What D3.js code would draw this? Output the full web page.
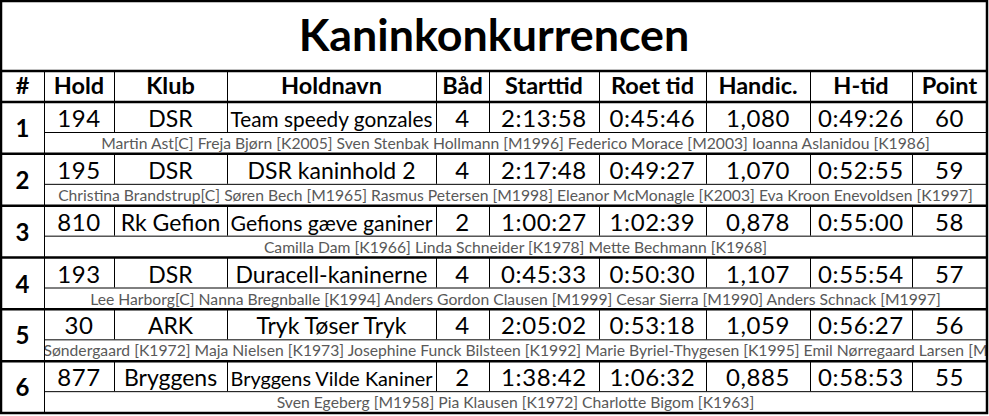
<!DOCTYPE html>
<html lang="da">

<head>
    <meta charset="UTF-8">
    <title>Kaninkonkurrencen</title>
    <script src="https://d3js.org/d3.v7.min.js"></script>
    <style>
        body { margin: 0; background: #fff; }
        text { font-family: Lato, "Noto Sans", sans-serif; }
    </style>
</head>

<body>

    <svg width="989" height="416" id="mainsvg"></svg>

    <script>
        // data
        const title = 'Kaninkonkurrencen';
        const headers = ['#', 'Hold', 'Klub', 'Holdnavn', 'Båd', 'Starttid', 'Roet tid', 'Handic.', 'H-tid', 'Point'];
        const ranks = ['1', '2', '3', '4', '5', '6'];
        const holdNr = ['194', '195', '810', '193', '30', '877'];
        const klub = ['DSR', 'DSR', 'Rk Gefion', 'DSR', 'ARK', 'Bryggens'];
        const holdnavn = ['Team speedy gonzales', 'DSR kaninhold 2', 'Gefions gæve ganiner', 'Duracell-kaninerne', 'Tryk Tøser Tryk', 'Bryggens Vilde Kaniner'];
        const baad = ['4', '4', '2', '4', '4', '2'];
        const starttid = ['2:13:58', '2:17:48', '1:00:27', '0:45:33', '2:05:02', '1:38:42'];
        const roetTid = ['0:45:46', '0:49:27', '1:02:39', '0:50:30', '0:53:18', '1:06:32'];
        const handicap = ['1,080', '1,070', '0,878', '1,107', '1,059', '0,885'];
        const hTid = ['0:49:26', '0:52:55', '0:55:00', '0:55:54', '0:56:27', '0:58:53'];
        const point = ['60', '59', '58', '57', '56', '55'];
        const members = [
            'Martin Ast[C] Freja Bjørn [K2005] Sven Stenbak Hollmann [M1996] Federico Morace [M2003] Ioanna Aslanidou [K1986]',
            'Christina Brandstrup[C] Søren Bech [M1965] Rasmus Petersen [M1998] Eleanor McMonagle [K2003] Eva Kroon Enevoldsen [K1997]',
            'Camilla Dam [K1966] Linda Schneider [K1978] Mette Bechmann [K1968]',
            'Lee Harborg[C] Nanna Bregnballe [K1994] Anders Gordon Clausen [M1999] Cesar Sierra [M1990] Anders Schnack [M1997]',
            'Søndergaard [K1972] Maja Nielsen [K1973] Josephine Funck Bilsteen [K1992] Marie Byriel-Thygesen [K1995] Emil Nørregaard Larsen [M',
            'Sven Egeberg [M1958] Pia Klausen [K1972] Charlotte Bigom [K1963]'
        ];

        const svg = d3.select('#mainsvg');

        // layout
        const colEdges = [1, 44, 114, 227, 436, 489, 599, 706, 810, 912, 987];
        const textCols = ['Klub', 'Holdnavn'];
        const titleBottom = 71;
        const headerBottom = 102;
        const tableBottom = 413;
        const dataRowH = 30;

        // scales
        const colScale = d3.scaleOrdinal().domain(headers).range(colEdges.slice(0, -1));
        const colWidth = h => colEdges[headers.indexOf(h) + 1] - colScale(h);
        const yScale = d3.scaleBand().domain(ranks).range([headerBottom, tableBottom]);
        const band = yScale.bandwidth();

        const rows = ranks.map((r, i) => ({
            rank: r,
            cells: [holdNr[i], klub[i], holdnavn[i], baad[i], starttid[i], roetTid[i], handicap[i], hTid[i], point[i]],
            members: members[i]
        }));

        // shrink the font of text that does not fit in its cell
        function fit(node, w) {
            const len = node.getComputedTextLength();
            if (len > w) {
                const fs = +d3.select(node).attr('font-size');
                d3.select(node).attr('font-size', fs * w / len);
            }
        }

        // title
        svg.append('text')
            .attr('x', 494)
            .attr('y', 51)
            .attr('text-anchor', 'middle')
            .attr('font-size', 44.8)
            .attr('font-weight', 'bold')
            .text(title);

        // header
        svg.append('g').selectAll('text')
            .data(headers)
            .join('text')
            .attr('x', d => colScale(d) + colWidth(d) / 2)
            .attr('y', 94)
            .attr('text-anchor', 'middle')
            .attr('font-size', 23.5)
            .attr('font-weight', 'bold')
            .text(d => d);

        // team blocks
        const block = svg.append('g').selectAll('g')
            .data(rows)
            .join('g')
            .attr('transform', d => `translate(0,${yScale(d.rank)})`);

        block.append('text')
            .attr('x', colScale('#') + colWidth('#') / 2)
            .attr('y', 35)
            .attr('text-anchor', 'middle')
            .attr('font-size', 24)
            .attr('font-weight', 'bold')
            .text(d => d.rank);

        block.selectAll('text.cell')
            .data(d => d.cells.map((v, j) => ({ v, h: headers[j + 1] })))
            .join('text')
            .attr('class', 'cell')
            .attr('x', d => colScale(d.h) + colWidth(d.h) / 2)
            .attr('y', 25)
            .attr('text-anchor', 'middle')
            .attr('font-size', d => textCols.includes(d.h) ? 23 : 24)
            .attr('letter-spacing', d => textCols.includes(d.h) ? 0 : 0.6)
            .text(d => d.v)
            .each(function (d) { fit(this, colWidth(d.h) - 7); });

        // member lines, clipped to the merged cell
        const memLeft = colScale('Hold');
        const memRight = colEdges[colEdges.length - 1];
        svg.append('defs').append('clipPath')
            .attr('id', 'memclip')
            .append('rect')
            .attr('x', memLeft + 1)
            .attr('y', dataRowH)
            .attr('width', memRight - memLeft - 2)
            .attr('height', band - dataRowH);

        block.append('text')
            .attr('clip-path', 'url(#memclip)')
            .attr('x', (memLeft + memRight) / 2)
            .attr('y', dataRowH + 17)
            .attr('text-anchor', 'middle')
            .attr('font-size', 15.7)
            .attr('fill', '#595959')
            .text(d => d.members);

        // grid lines
        const grid = svg.append('g').attr('stroke', '#000').attr('fill', 'none');

        // thin lines inside each block
        block.append('line')
            .attr('x1', memLeft).attr('x2', memRight)
            .attr('y1', dataRowH + 0.5).attr('y2', dataRowH + 0.5)
            .attr('stroke', '#000').attr('stroke-width', 1);

        block.selectAll('line.col')
            .data(colEdges.slice(2, -1))
            .join('line')
            .attr('class', 'col')
            .attr('x1', d => d + 0.5).attr('x2', d => d + 0.5)
            .attr('y1', 0).attr('y2', dataRowH)
            .attr('stroke', '#000').attr('stroke-width', 1);

        // header column lines
        grid.selectAll('line.hcol')
            .data(colEdges.slice(1, -1))
            .join('line')
            .attr('x1', d => d + 0.5).attr('x2', d => d + 0.5)
            .attr('y1', titleBottom).attr('y2', headerBottom)
            .attr('stroke-width', 1);

        // # column line full height
        grid.append('line')
            .attr('x1', colEdges[1] + 0.5).attr('x2', colEdges[1] + 0.5)
            .attr('y1', headerBottom).attr('y2', tableBottom)
            .attr('stroke-width', 1);

        // thick horizontal lines
        const thickY = [titleBottom, headerBottom].concat(ranks.slice(1).map(r => yScale(r)));
        grid.selectAll('line.thick')
            .data(thickY)
            .join('line')
            .attr('x1', colEdges[0]).attr('x2', memRight)
            .attr('y1', d => d).attr('y2', d => d)
            .attr('stroke-width', 2.5);

        // outer border
        grid.append('rect')
            .attr('x', colEdges[0])
            .attr('y', 1)
            .attr('width', memRight - colEdges[0])
            .attr('height', tableBottom - 1)
            .attr('stroke-width', 2.5);
    </script>
</body>

</html>
